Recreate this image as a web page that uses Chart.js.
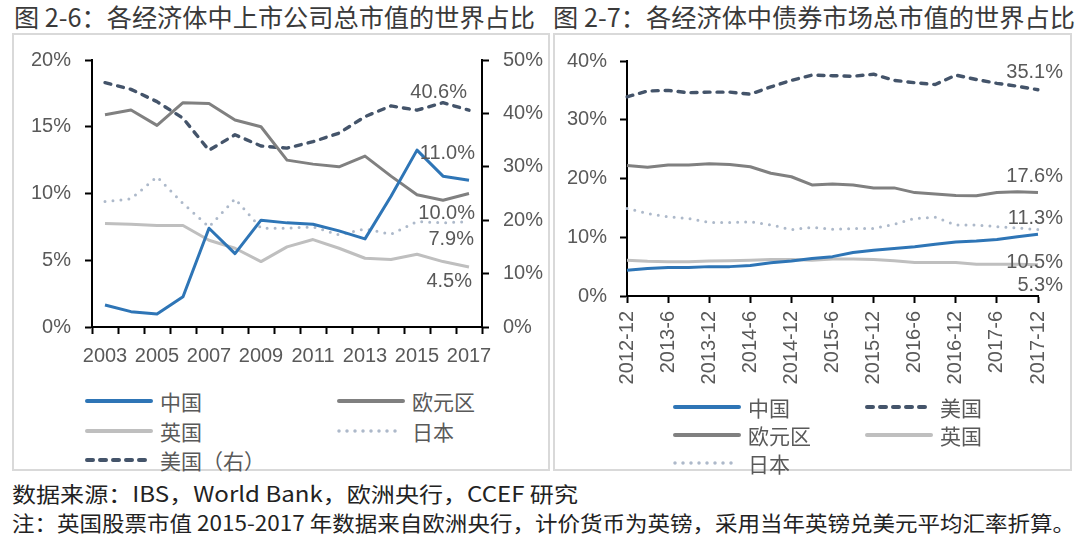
<!DOCTYPE html>
<html><head><meta charset="utf-8">
<script src="https://cdn.jsdelivr.net/npm/chart.js@4"></script>
<style>
body{margin:0;width:1080px;height:539px;background:#fff;position:relative;overflow:hidden;font-family:"Noto Sans CJK SC",sans-serif;}
.title{position:absolute;top:0;height:32px;line-height:32px;font-size:25px;color:#3a3a3a;white-space:nowrap;transform-origin:0 50%;}
.panel{position:absolute;top:33px;height:438px;border:2px solid #d9d9d9;box-sizing:border-box;}
canvas{position:absolute;}
.leg{position:absolute;height:28px;display:flex;align-items:center;font-size:21px;color:#595959;white-space:nowrap;}
.leg svg{flex:none;}
.foot{position:absolute;left:12px;height:28px;line-height:28px;white-space:nowrap;transform-origin:0 50%;color:#222;font-size:21px;}
</style></head>
<body>
<div class="panel" style="left:12px;width:538px;"></div>
<div class="panel" style="left:553px;width:519px;"></div>
<div class="title" id="t1" style="left:14px;">图 2-6：各经济体中上市公司总市值的世界占比</div>
<div class="title" id="t2" style="left:553px;">图 2-7：各经济体中债券市场总市值的世界占比</div>
<canvas id="c1" width="535" height="345" style="left:12px;top:34px;"></canvas>
<canvas id="c2" width="517" height="366" style="left:553px;top:34px;"></canvas>
<div id="legends"></div>
<div class="foot" id="f1" style="top:479px;">数据来源：IBS，World Bank，欧洲央行，CCEF 研究</div>
<div class="foot" id="f2" style="top:508px;">注：英国股票市值 2015-2017 年数据来自欧洲央行，计价货币为英镑，采用当年英镑兑美元平均汇率折算。</div>
<script>
// ---------- DATA ----------
const years = ['2003','2004','2005','2006','2007','2008','2009','2010','2011','2012','2013','2014','2015','2016','2017'];
const stockChina = [1.65,1.15,0.97,2.27,7.4,5.5,8.0,7.8,7.7,7.2,6.6,9.8,13.25,11.3,11.0];
const stockEuro  = [15.9,16.25,15.1,16.8,16.75,15.5,15.0,12.5,12.2,12.0,12.8,11.3,9.9,9.5,10.0];
const stockUK    = [7.76,7.7,7.6,7.6,6.5,5.9,4.9,6.0,6.55,5.9,5.15,5.05,5.45,4.9,4.5];
const stockJapan = [9.4,9.6,11.25,9.26,7.5,9.6,7.4,7.4,7.5,6.9,7.35,6.95,7.9,7.8,7.9];
const stockUS    = [45.75,44.5,42.2,39.1,33.1,36.0,33.9,33.5,34.7,36.3,39.4,41.4,40.6,42.0,40.6];

const quarters = ['2012-12','2013-3','2013-6','2013-9','2013-12','2014-3','2014-6','2014-9','2014-12','2015-3','2015-6','2015-9','2015-12','2016-3','2016-6','2016-9','2016-12','2017-3','2017-6','2017-9','2017-12'];
const bondChina = [4.4,4.7,4.85,4.85,5.0,5.0,5.2,5.65,5.95,6.4,6.7,7.4,7.8,8.1,8.4,8.8,9.2,9.35,9.6,10.1,10.5];
const bondUS    = [33.9,34.9,35.0,34.6,34.7,34.7,34.35,35.6,36.7,37.6,37.5,37.4,37.75,36.7,36.3,36.0,37.6,36.85,36.2,35.7,35.1];
const bondEuro  = [22.2,21.9,22.3,22.3,22.5,22.4,22.0,20.9,20.3,18.9,19.05,18.9,18.4,18.4,17.6,17.35,17.1,17.05,17.6,17.75,17.6];
const bondUK    = [6.1,5.9,5.85,5.85,5.95,6.0,6.1,6.2,6.2,6.1,6.3,6.3,6.2,6.0,5.7,5.7,5.7,5.4,5.4,5.4,5.3];
const bondJapan = [14.9,14.05,13.5,13.2,12.5,12.5,12.65,12.1,11.3,11.7,11.35,11.5,11.5,12.2,13.2,13.4,12.1,12.1,11.8,11.6,11.3];

const leftAxisTicks = [0,5,10,15,20];
const rightAxisTicks = [0,10,20,30,40,50];
const bondAxisTicks = [0,10,20,30,40];

// ---------- STYLES ----------
const FONT = '"Liberation Sans", Arial, sans-serif';
const TICK = '#595959';
const S = {
  china: {color:'#2e75b6', width:3, dash:[], cap:'butt'},
  euro:  {color:'#808080', width:3, dash:[], cap:'butt'},
  uk:    {color:'#bfbfbf', width:3, dash:[], cap:'butt'},
  japan: {color:'#adb9ca', width:3, dash:[0,8], cap:'round'},
  us:    {color:'#44546a', width:3.4, dash:[6,7], cap:'round'}
};
function ds(label, data, st, axis, endLabel){
  return {label, data, yAxisID:axis, borderColor:st.color, borderWidth:st.width,
    borderDash:st.dash, borderCapStyle:st.cap, borderJoinStyle:'round',
    pointRadius:0, tension:0, fill:false, endLabel};
}
const endLabels = {
  id:'endLabels',
  afterDatasetsDraw(chart){
    const ctx = chart.ctx;
    chart.data.datasets.forEach((d,i)=>{
      if(!d.endLabel) return;
      const meta = chart.getDatasetMeta(i);
      const pt = meta.data[meta.data.length-1];
      const v = d.data[d.data.length-1];
      ctx.save();
      ctx.font = '20px ' + FONT;
      ctx.fillStyle = TICK;
      ctx.textAlign = 'right';
      ctx.textBaseline = 'middle';
      ctx.fillText(v.toFixed(1)+'%', pt.x + d.endLabel.dx, pt.y + d.endLabel.dy);
      ctx.restore();
    });
  }
};
function gridOpts(offset){
  return {display:true, offset:!!offset, drawOnChartArea:false, drawTicks:true, tickLength:7, tickColor:'#000', tickWidth:2};
}
const border = {display:true, color:'#000', width:2};
const tickFont = {family:FONT, size:20};

// ---------- CHART 1 ----------
new Chart(document.getElementById('c1'), {
  type:'line',
  data:{labels:years, datasets:[
    ds('中国', stockChina, S.china, 'y', {dx:6, dy:-27}),
    ds('欧元区', stockEuro, S.euro, 'y', {dx:6, dy:20}),
    ds('英国', stockUK, S.uk, 'y', {dx:3, dy:15}),
    ds('日本', stockJapan, S.japan, 'y', {dx:5, dy:18}),
    ds('美国（右）', stockUS, S.us, 'y1', {dx:-2, dy:-18})
  ]},
  options:{
    responsive:false, animation:false, devicePixelRatio:1,
    layout:{padding:{top:26,left:0,right:0,bottom:0}},
    plugins:{legend:{display:false}, tooltip:{enabled:false}},
    scales:{
      x:{type:'category', offset:true, grid:gridOpts(true), border,
        ticks:{autoSkip:false, maxRotation:0, minRotation:0, padding:10, color:TICK, font:tickFont,
          callback:(v,i)=> i%2===0 ? years[i] : ''},
        afterFit:s=>{s.height=52;}},
      y:{position:'left', min:0, max:20, grid:gridOpts(), border,
        afterBuildTicks:s=>{s.ticks = leftAxisTicks.map(v=>({value:v}));},
        ticks:{padding:14, color:TICK, font:tickFont, callback:v=>v+'%'},
        afterFit:s=>{s.width=80;}},
      y1:{position:'right', min:0, max:50, grid:gridOpts(), border,
        afterBuildTicks:s=>{s.ticks = rightAxisTicks.map(v=>({value:v}));},
        ticks:{padding:14, color:TICK, font:tickFont, callback:v=>v+'%'},
        afterFit:s=>{s.width=65;}}
    }
  },
  plugins:[endLabels]
});

// ---------- CHART 2 ----------
new Chart(document.getElementById('c2'), {
  type:'line',
  data:{labels:quarters, datasets:[
    ds('中国', bondChina, S.china, 'y', {dx:25, dy:28}),
    ds('美国', bondUS, S.us, 'y', {dx:25, dy:-17}),
    ds('欧元区', bondEuro, S.euro, 'y', {dx:25, dy:-16}),
    ds('英国', bondUK, S.uk, 'y', {dx:25, dy:21}),
    ds('日本', bondJapan, S.japan, 'y', {dx:25, dy:-11})
  ]},
  options:{
    responsive:false, animation:false, devicePixelRatio:1,
    layout:{padding:{top:27,left:0,right:30,bottom:0}},
    plugins:{legend:{display:false}, tooltip:{enabled:false}},
    scales:{
      x:{type:'category', offset:false, grid:gridOpts(false), border,
        afterBuildTicks:s=>{s.ticks = s.ticks.filter(t=>t.value%2===0);},
        ticks:{autoSkip:false, maxRotation:90, minRotation:90, padding:8, color:TICK, font:tickFont},
        afterFit:s=>{s.height=104;}},
      y:{position:'left', min:0, max:40, grid:gridOpts(), border,
        afterBuildTicks:s=>{s.ticks = bondAxisTicks.map(v=>({value:v}));},
        ticks:{padding:13, color:TICK, font:tickFont, callback:v=>v+'%'},
        afterFit:s=>{s.width=74;}}
    }
  },
  plugins:[endLabels]
});

// ---------- LEGENDS ----------
const leftLegend = [
  {name:'中国', st:S.china, x:85, y:401},
  {name:'欧元区', st:S.euro, x:337, y:401},
  {name:'英国', st:S.uk, x:85, y:431},
  {name:'日本', st:S.japan, x:337, y:431},
  {name:'美国（右）', st:S.us, x:85, y:460}
];
const rightLegend = [
  {name:'中国', st:S.china, x:673, y:407},
  {name:'美国', st:S.us, x:865, y:407},
  {name:'欧元区', st:S.euro, x:673, y:435},
  {name:'英国', st:S.uk, x:865, y:435},
  {name:'日本', st:S.japan, x:673, y:463}
];
function sample(st){
  const w = 68, dash = st.dash.length ? st.dash.join(' ') : 'none';
  const sw = st.dash.length && st.dash[0]===0 ? 3.5 : 4;
  return `<svg width="${w}" height="10"><line x1="2" y1="5" x2="${w-2}" y2="5" stroke="${st.color}" stroke-width="${sw}" stroke-linecap="round" stroke-dasharray="${dash}"/></svg>`;
}
let html = '';
[...leftLegend, ...rightLegend].forEach(it=>{
  html += `<div class="leg" style="left:${it.x}px;top:${it.y-14}px;">${sample(it.st)}<span style="margin-left:7px;">${it.name}</span></div>`;
});
document.getElementById('legends').innerHTML = html;

// ---------- TEXT FIT ----------
function fit(id, target){
  const el = document.getElementById(id);
  const w = el.getBoundingClientRect().width;
  el.style.transform = `scaleX(${target/w})`;
}
fit('t1', 521);
fit('t2', 522);
fit('f1', 566);
fit('f2', 1063);
</script>
</body></html>
